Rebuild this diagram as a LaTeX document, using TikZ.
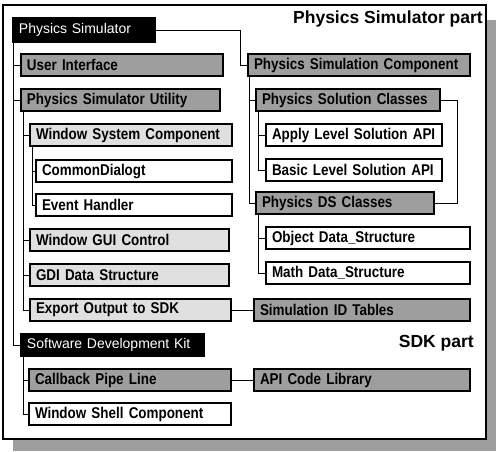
\documentclass[tikz,border=0pt]{standalone}
\usepackage{fontspec}
\setmainfont{Liberation Sans}
\newfontfamily\narrowbold[FakeStretch=0.86]{Liberation Sans Bold}
\definecolor{dgray}{gray}{0.62}
\definecolor{lgray}{gray}{0.88}
\definecolor{shadowc}{gray}{0.62}
\tikzset{
  base/.style={draw, line width=2pt, anchor=west, inner xsep=6pt, inner ysep=0pt,
    minimum height=22pt, align=left, font=\narrowbold\fontsize{15.6}{17}\selectfont},
  dbox/.style={base, fill=dgray},
  lbox/.style={base, fill=lgray},
  wbox/.style={base, fill=white},
  kbox/.style={base, fill=black, text=white, font=\fontsize{14}{16}\selectfont},
  conn/.style={draw, line width=1pt},
  title/.style={anchor=east, inner sep=0pt, font=\fontsize{17.5}{20}\selectfont\bfseries}
}
\begin{document}
\begin{tikzpicture}[x=1pt,y=-1pt]
\useasboundingbox (0,0) rectangle (496,451);
% shadow and frame
\fill[shadowc] (13,20) rectangle (496,451);
\draw[line width=1.2pt, fill=white] (3,5) rectangle (486,439);

% titles
\node[title] (t1) at (483,19) {Physics Simulator part};
\node[title] (t2) at (474,343) {SDK part};

% left column
\node[kbox, text width=130pt, minimum height=24pt] (ps) at (12,30) {Physics Simulator};
\node[dbox, text width=190pt] (ui) at (20,65) {User Interface};
\node[dbox, text width=187pt] (psu) at (20,100) {Physics Simulator Utility};
\node[lbox, text width=190pt] (wsc) at (29,135) {Window System Component};
\node[wbox, text width=184pt] (cd) at (35,171) {CommonDialogt};
\node[wbox, text width=184pt] (eh) at (35,205) {Event Handler};
\node[lbox, text width=187pt] (wgui) at (29,240) {Window GUI Control};
\node[lbox, text width=187pt] (gdi) at (29,275) {GDI Data Structure};
\node[lbox, text width=189pt] (exp) at (29,310) {Export Output to SDK};
\node[kbox, text width=171pt] (sdk) at (20,345) {Software Development Kit};
\node[dbox, text width=190pt] (cb) at (28,380) {Callback Pipe Line};
\node[wbox, text width=190pt] (ws) at (28,414) {Window Shell Component};

% right column
\node[dbox, text width=210pt] (psc) at (247,65) {Physics Simulation Component};
\node[dbox, text width=172pt] (psol) at (255,100) {Physics Solution Classes};
\node[wbox, text width=164pt] (apply) at (265,135) {Apply Level Solution API};
\node[wbox, text width=164pt] (basic) at (265,170) {Basic Level Solution API};
\node[dbox, text width=166pt] (pds) at (255,203) {Physics DS Classes};
\node[wbox, text width=192pt] (obj) at (265,238) {Object Data\_Structure};
\node[wbox, text width=192pt] (math) at (265,273) {Math Data\_Structure};
\node[dbox, text width=204pt] (sim) at (253,310) {Simulation ID Tables};
\node[dbox, text width=204pt] (api) at (253,380) {API Code Library};

% connectors
\coordinate (j1) at (240,30);
\draw[conn] (ps.east) -- (j1) |- (psc.west);

\draw[conn] ([xshift=1.5pt]ps.south west) |- (ui.west);
\draw[conn] ([xshift=1.5pt]ps.south west) |- (psu.west);
\draw[conn] ([xshift=1.5pt]ps.south west) |- (sdk.west);

\draw[conn] ([xshift=3pt]psu.south west) |- (wsc.west);
\draw[conn] ([xshift=3pt]psu.south west) |- (wgui.west);
\draw[conn] ([xshift=3pt]psu.south west) |- (gdi.west);
\draw[conn] ([xshift=3pt]psu.south west) |- (exp.west);

\draw[conn] ([xshift=3pt]wsc.south west) |- (cd.west);
\draw[conn] ([xshift=3pt]wsc.south west) |- (eh.west);

\draw[conn] ([xshift=3pt]sdk.south west) |- (cb.west);
\draw[conn] ([xshift=3pt]sdk.south west) |- (ws.west);

\draw[conn] ([xshift=2pt]psc.south west) |- (psol.west);
\draw[conn] ([xshift=2pt]psc.south west) |- (pds.west);

\draw[conn] ([xshift=3pt]psol.south west) |- (apply.west);
\draw[conn] ([xshift=3pt]psol.south west) |- (basic.west);

\draw[conn] ([xshift=3pt]pds.south west) |- (obj.west);
\draw[conn] ([xshift=3pt]pds.south west) |- (math.west);

\draw[conn] (psol.east) -- ++(16,0) |- (pds.east);

\draw[conn] (exp.east) -- (sim.west);
\draw[conn] (cb.east) -- (api.west);
\end{tikzpicture}
\end{document}
